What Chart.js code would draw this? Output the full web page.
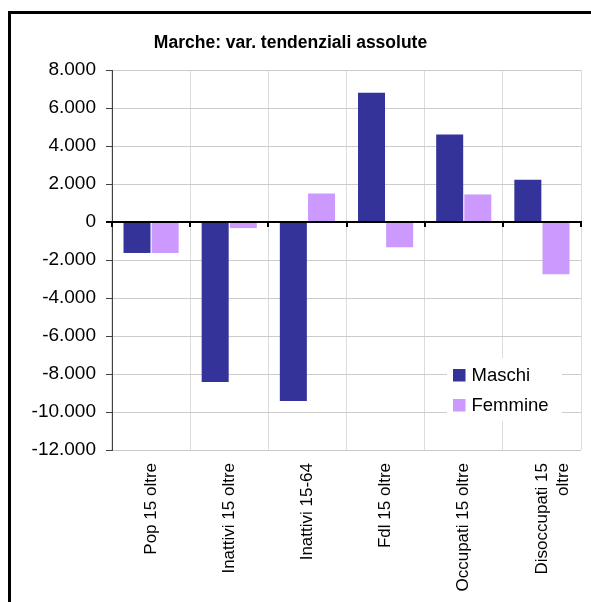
<!DOCTYPE html>
<html>
<head>
<meta charset="utf-8">
<script src="https://cdn.jsdelivr.net/npm/chart.js@4.4.0/dist/chart.umd.min.js"></script>
<style>
  html, body { margin: 0; padding: 0; background: #fff; }
  #wrap { position: relative; width: 591px; height: 602px; }
</style>
</head>
<body>
<div id="wrap"><canvas id="myChart" width="591" height="602"></canvas></div>
<script>
const categories = ['Pop 15 oltre', 'Inattivi 15 oltre', 'Inattivi 15-64', 'Fdl 15 oltre', 'Occupati 15 oltre', ['Disoccupati 15', 'oltre']];
const maschi = [-1630, -8420, -9420, 6800, 4600, 2230];
const femmine = [-1630, -320, 1500, -1330, 1450, -2750];
const yMin = -12000, yMax = 8000, yStep = 2000;

const FONT = '"Liberation Sans", Arial, sans-serif';

// 8000 -> "8.000"
const fmt = v => {
  const s = Math.abs(v).toString().replace(/\B(?=(\d{3})+(?!\d))/g, '.');
  return (v < 0 ? '-' : '') + s;
};

const framePlugin = {
  id: 'frame',
  beforeDraw(chart) {
    const c = chart.ctx;
    c.save();
    c.fillStyle = '#fff';
    c.fillRect(0, 0, chart.width, chart.height);
    c.fillStyle = '#000';
    c.fillRect(8, 11, 3, chart.height);
    c.fillRect(8, 11, chart.width, 3);
    c.restore();
  }
};

const zeroPlugin = {
  id: 'zeroLine',
  afterDatasetsDraw(chart) {
    const { ctx, chartArea, scales: { x, y } } = chart;
    const y0 = y.getPixelForValue(0);
    ctx.save();
    ctx.strokeStyle = '#000';
    ctx.lineWidth = 2;
    ctx.beginPath();
    ctx.moveTo(chartArea.left - 6, y0);
    ctx.lineTo(chartArea.right + 1, y0);
    ctx.stroke();
    for (let i = 0; i <= categories.length; i++) {
      const px = Math.round(x.getPixelForValue(i - 0.5));
      ctx.beginPath();
      ctx.moveTo(px, y0);
      ctx.lineTo(px, y0 + 5);
      ctx.stroke();
    }
    ctx.restore();
  }
};

const legendPlugin = {
  id: 'innerLegend',
  afterDraw(chart) {
    const { ctx, chartArea } = chart;
    const bx = chartArea.right - 134, by = chartArea.bottom - 92;
    ctx.save();
    ctx.fillStyle = '#fff';
    ctx.fillRect(bx, by, 115, 63);
    ctx.font = '18.5px ' + FONT;
    ctx.textBaseline = 'middle';
    chart.data.datasets.forEach((ds, i) => {
      const ry = by + 11 + i * 30;
      ctx.fillStyle = ds.backgroundColor;
      ctx.fillRect(bx + 6, ry, 12.5, 12.5);
      ctx.fillStyle = '#000';
      ctx.fillText(ds.label, bx + 24.5, ry + 7);
    });
    ctx.restore();
  }
};

var ctx = document.getElementById('myChart').getContext('2d');
var myChart = new Chart(ctx, {
  type: 'bar',
  data: {
    labels: categories,
    datasets: [{
      label: 'Maschi',
      data: maschi,
      backgroundColor: '#333399',
      categoryPercentage: 0.72,
      barPercentage: 0.96
    }, {
      label: 'Femmine',
      data: femmine,
      backgroundColor: '#CC99FF',
      categoryPercentage: 0.72,
      barPercentage: 0.96
    }]
  },
  options: {
    responsive: false,
    animation: false,
    layout: { padding: { left: 0, right: 10, top: 0, bottom: 0 } },
    plugins: {
      legend: { display: false },
      tooltip: { enabled: false },
      title: {
        display: true,
        text: 'Marche: var. tendenziali assolute',
        color: '#000',
        font: { family: FONT, size: 17.5, weight: 'bold' },
        padding: { top: 33, bottom: 16 }
      }
    },
    scales: {
      x: {
        afterFit(scale) {
          scale.height = 152;
          scale.paddingLeft = 0;
          scale.paddingRight = 0;
        },
        grid: { color: '#dcdcdc', drawTicks: false, offset: true },
        border: { display: false },
        ticks: {
          color: '#000',
          font: { family: FONT, size: 17, lineHeight: 1.25 },
          minRotation: 90,
          maxRotation: 90,
          autoSkip: false,
          padding: 13
        }
      },
      y: {
        min: yMin,
        max: yMax,
        afterFit(scale) { scale.width = 112; },
        grid: {
          color: c => (c.tick && c.tick.value === 0) ? '#000' : '#cccccc',
          tickColor: '#404040',
          tickLength: 6
        },
        border: { color: '#404040', width: 1 },
        ticks: {
          stepSize: yStep,
          color: '#000',
          font: { family: FONT, size: 19 },
          padding: 10,
          callback: v => fmt(v)
        }
      }
    }
  },
  plugins: [framePlugin, zeroPlugin, legendPlugin]
});
</script>
</body>
</html>
